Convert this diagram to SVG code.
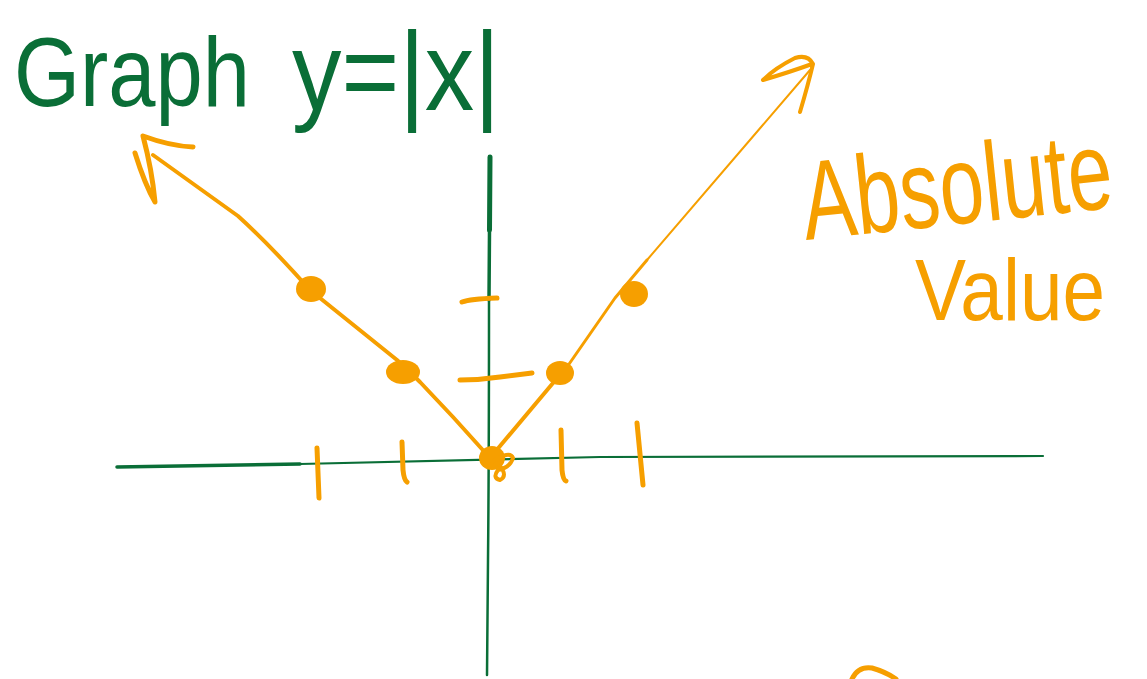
<svg xmlns="http://www.w3.org/2000/svg" width="1147" height="679" viewBox="0 0 1147 679">
<style>
.g{fill:none;stroke:#0a6e37;stroke-linecap:round;stroke-linejoin:round}
.o{fill:none;stroke:#f69f00;stroke-linecap:round;stroke-linejoin:round}
.dot{fill:#f69f00}
.tg{fill:#0a6e37;font-family:"Liberation Sans",Arial,sans-serif}
.to{fill:#f69f00;font-family:"Liberation Sans",Arial,sans-serif}
</style>
<rect width="1147" height="679" fill="#ffffff"/>
<g id="title">
<text class="tg" x="14" y="106" font-size="98" textLength="236" lengthAdjust="spacingAndGlyphs">Graph</text>
<text class="tg" x="292" y="110" font-size="112" textLength="208" lengthAdjust="spacingAndGlyphs">y=|x|</text>
</g>
<g id="axes">
<path class="g" stroke-width="5" d="M490,157 L489.5,230"/>
<path class="g" stroke-width="3.5" d="M489.5,230 L489,300"/>
<path class="g" stroke-width="2.5" d="M489,300 Q489,460 488,560 L487,675"/>
<path class="g" stroke-width="3.5" d="M117,467 L300,464"/>
<path class="g" stroke-width="2.2" d="M300,464 Q480,460 600,457 L1043,456"/>
</g>
<g id="ticks">
<path class="o" stroke-width="5" d="M317,448 L319,498"/>
<path class="o" stroke-width="5" d="M402,442 L403,470 Q404,480 407,482"/>
<path class="o" stroke-width="5" d="M561,430 L562,470 Q563,480 566,481"/>
<path class="o" stroke-width="5" d="M637,423 L643,485"/>
<path class="o" stroke-width="5" d="M462,302 Q470,299 497,298"/>
<path class="o" stroke-width="5" d="M460,380 Q480,380 500,377 L532,373"/>
</g>
<g id="curve">
<path class="o" stroke-width="4" d="M153,155 L238,216 Q270,245 310,290 L397,360 Q412,374 420,382 L453,417 L490,458"/>
<path class="o" stroke-width="4" d="M490,458 L553,383 L567,367"/>
<path class="o" stroke-width="3" d="M567,367 L615,298 L647,260"/>
<path class="o" stroke-width="2" d="M647,260 L810,70"/>
<path class="o" stroke-width="5" d="M135,153 Q145,185 155,202 Q152,170 143,136 Q170,146 193,147"/>
<path class="o" stroke-width="4" d="M800,112 Q808,85 813,64 Q808,54 795,58 Q775,68 763,80 Q790,72 812,64"/>
</g>
<g id="points">
<ellipse class="dot" cx="311" cy="289" rx="15" ry="13"/>
<ellipse class="dot" cx="403" cy="372" rx="17" ry="12"/>
<ellipse class="dot" cx="560" cy="373" rx="14" ry="12"/>
<ellipse class="dot" cx="634" cy="294" rx="14" ry="13"/>
<ellipse class="dot" cx="492" cy="458" rx="13" ry="12"/>
<path class="o" stroke-width="4" d="M492,462 Q510,450 513,458 Q510,468 498,470 Q492,478 500,480 Q508,476 500,466"/>
</g>
<g id="label">
<text class="to" x="0" y="0" font-size="80" transform="translate(806 240) rotate(-6) scale(1 1.4)">Absolute</text>
<text class="to" x="915" y="320" font-size="88" textLength="190" lengthAdjust="spacingAndGlyphs">Value</text>
<path class="o" stroke-width="5" d="M852,679 Q858,666 872,668 Q886,672 896,679"/>
</g>
</svg>
